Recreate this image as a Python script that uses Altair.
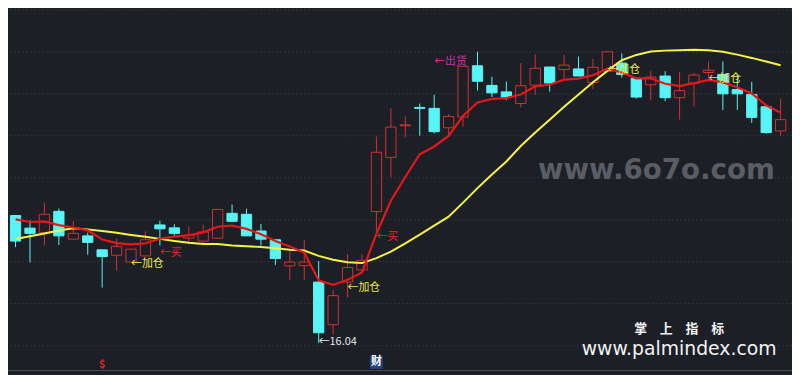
import altair as alt
import pandas as pd

# ---------------- data ----------------
idx = list(range(54))
opens = [19.069, 18.770, 18.662, 19.168, 18.508, 18.586, 18.255, 18.126, 17.965, 18.110,
         18.846, 18.777, 18.535, 18.462, 18.531, 19.122, 19.099, 18.701, 18.494, 17.873,
         17.880, 17.489, 16.477, 17.489, 17.776, 19.161, 20.449, 21.199, 21.636, 21.613,
         21.153, 21.406, 22.625, 22.158, 22.004, 21.728, 22.165, 22.595, 22.533, 22.549,
         22.227, 22.496, 22.687, 22.326, 22.174, 22.381, 21.866, 22.211, 22.464, 22.418,
         22.059, 21.944, 21.652, 21.077]
closes = [18.462, 18.646, 19.099, 18.586, 18.646, 18.432, 18.094, 18.340, 18.271, 18.494,
          18.754, 18.646, 18.604, 18.678, 19.214, 18.931, 18.586, 18.508, 18.048, 17.965,
          17.965, 16.286, 17.167, 17.834, 18.006, 20.571, 21.169, 21.222, 21.613, 21.061,
          21.422, 22.611, 22.257, 21.981, 21.875, 22.151, 22.565, 22.215, 22.641, 22.381,
          22.588, 22.956, 22.418, 21.882, 22.358, 21.866, 22.036, 22.404, 22.519, 21.958,
          21.958, 21.399, 21.038, 21.346]
highs = [19.069, 18.954, 19.375, 19.237, 18.938, 18.662, 18.255, 18.524, 18.271, 18.692,
         18.945, 18.862, 18.807, 18.853, 19.214, 19.329, 19.230, 18.869, 18.494, 18.241,
         18.494, 17.988, 17.298, 18.156, 18.156, 20.946, 21.613, 21.422, 21.728, 21.935,
         21.475, 22.611, 22.956, 22.365, 22.250, 22.687, 22.894, 22.595, 22.878, 22.841,
         22.786, 22.956, 22.917, 22.326, 22.496, 22.496, 22.480, 22.457, 22.726, 22.726,
         22.418, 22.243, 21.652, 21.843]
lows = [18.317, 17.956, 18.356, 18.370, 18.508, 18.140, 17.358, 17.758, 17.965, 18.110,
        18.356, 18.554, 18.386, 18.386, 18.531, 18.931, 18.586, 18.356, 17.896, 17.542,
        17.542, 16.040, 16.247, 17.121, 17.696, 18.701, 19.980, 20.923, 20.962, 21.015,
        20.985, 21.176, 22.036, 21.882, 21.806, 21.636, 21.935, 22.013, 22.319, 22.381,
        22.073, 22.496, 22.342, 21.843, 21.806, 21.783, 21.346, 21.652, 22.266, 21.576,
        21.576, 21.268, 21.015, 20.962]
ma_short = [18.979, 18.915, 18.931, 18.841, 18.786, 18.717, 18.501, 18.414, 18.384, 18.411,
            18.517, 18.572, 18.598, 18.669, 18.802, 18.832, 18.752, 18.627, 18.466, 18.335,
            18.190, 17.528, 17.422, 17.542, 17.719, 18.639, 19.421, 19.984, 20.525, 20.709,
            20.957, 21.433, 21.755, 21.836, 21.857, 21.944, 22.135, 22.174, 22.294, 22.319,
            22.399, 22.556, 22.462, 22.326, 22.326, 22.197, 22.140, 22.211, 22.291, 22.229,
            22.117, 21.969, 21.684, 21.509]
ma_long = [18.510, 18.577, 18.644, 18.715, 18.765, 18.740, 18.701, 18.660, 18.609, 18.563,
           18.515, 18.466, 18.423, 18.395, 18.391, 18.358, 18.340, 18.322, 18.294, 18.259,
           18.239, 18.110, 18.018, 17.960, 17.940, 18.057, 18.213, 18.409, 18.616, 18.830,
           19.041, 19.375, 19.720, 20.042, 20.352, 20.720, 21.042, 21.341, 21.652, 21.944,
           22.232, 22.503, 22.756, 22.882, 22.963, 22.984, 22.995, 23.007, 22.991, 22.958,
           22.889, 22.811, 22.724, 22.636]
grid_levels = [23.952, 22.956, 21.958, 20.962, 19.966, 18.968, 17.972, 16.976, 15.978]
floor_level = [15.389]

ann_idx = [8, 10, 21, 23, 25, 29, 41, 48]
ann_price = [17.926, 18.186, 16.063, 17.339, 18.547, 22.710, 22.519, 22.303]
ann_text = ["←加仓", "←买", "←16.04", "←加仓", "←买", "←出货", "←加仓", "←加仓"]
ann_kind = ["add", "buy", "low", "add", "buy", "sell", "add", "add"]

marker_idx = [6, 25]
marker_price = [15.53, 15.58]
marker_text = ["$", "财"]

# ---------------- styles ----------------
BG = "#1c1f26"
GRID = "#41454f"
RED = "#d8302f"
RED_LINE = "#e8161b"
CYAN = "#57f5f5"
YELLOW = "#f5f53a"
CJK = "Noto Sans CJK SC"
W, H = 792, 367

x_scale = alt.Scale(domain=[-0.523, 53.788], nice=False, zero=False, padding=0)
y_scale = alt.Scale(domain=[15.327, 23.952], nice=False, zero=False, padding=0)


def X(f="idx"):
    return alt.X(f"{f}:Q", scale=x_scale, axis=None)


def Y(f):
    return alt.Y(f"{f}:Q", scale=y_scale, axis=None)


candles = pd.DataFrame(dict(idx=idx, open=opens, high=highs, low=lows, close=closes))
candles["kind"] = ["up" if c >= o else "down" for o, c in zip(opens, closes)]
lines_df = pd.DataFrame(dict(idx=idx, ma_short=ma_short, ma_long=ma_long))
ann_df = pd.DataFrame(dict(idx=ann_idx, price=ann_price, text=ann_text, kind=ann_kind))
marker_df = pd.DataFrame(dict(idx=marker_idx, price=marker_price, text=marker_text))

grid = alt.Chart(pd.DataFrame({"level": grid_levels})).mark_rule(
    color=GRID, strokeDash=[1, 3], strokeWidth=1).encode(y=Y("level"))
floor = alt.Chart(pd.DataFrame({"level": floor_level})).mark_rule(
    color="#4a4e57", strokeWidth=1).encode(y=Y("level"))

wm1 = alt.Chart(pd.DataFrame({"t": ["www.6o7o.com"]})).mark_text(
    font="DejaVu Sans", fontWeight="bold", fontSize=28, color="#5a5d64",
    align="center", baseline="alphabetic").encode(
    x=alt.value(655), y=alt.value(171), text="t:N")

kind_dom = ["up", "down"]
wicks = alt.Chart(candles).mark_rule(strokeWidth=1).encode(
    x=X(), y=Y("low"), y2=alt.Y2("high"),
    stroke=alt.Stroke("kind:N", scale=alt.Scale(domain=kind_dom, range=[RED, CYAN]), legend=None))
bodies = alt.Chart(candles).mark_bar(size=10.4, strokeWidth=1).encode(
    x=X(), y=Y("open"), y2=alt.Y2("close"),
    fill=alt.Fill("kind:N", scale=alt.Scale(domain=kind_dom, range=[BG, CYAN]), legend=None),
    stroke=alt.Stroke("kind:N", scale=alt.Scale(domain=kind_dom, range=[RED, CYAN]), legend=None))

long_line = alt.Chart(lines_df).mark_line(color=YELLOW, strokeWidth=2).encode(x=X(), y=Y("ma_long"))
short_line = alt.Chart(lines_df).mark_line(color=RED_LINE, strokeWidth=2.2).encode(x=X(), y=Y("ma_short"))

ann = alt.Chart(ann_df).mark_text(align="left", baseline="middle", font=CJK, fontSize=11).encode(
    x=X(), y=Y("price"), text="text:N",
    color=alt.Color("kind:N", scale=alt.Scale(domain=["add", "buy", "sell", "low"],
                                              range=["#ecec3e", "#e0262a", "#cc2f9c", "#e6e6e6"]),
                    legend=None))

box = alt.Chart(marker_df).transform_filter(alt.datum.text == "财").mark_square(
    size=165, color="#21477f", filled=True, opacity=1).encode(x=X(), y=Y("price"))
markers = alt.Chart(marker_df).mark_text(
    align="center", baseline="middle", font=CJK, fontSize=11, fontWeight="bold").encode(
    x=X(), y=Y("price"), text="text:N",
    color=alt.Color("text:N", scale=alt.Scale(domain=["$", "财"], range=["#e0262a", "#ffffff"]),
                    legend=None))

wm2 = alt.Chart(pd.DataFrame({"t": ["掌　上　指　标"]})).mark_text(
    font=CJK, fontWeight="bold", fontSize=13, color="#f2f2f2",
    align="center", baseline="middle").encode(x=alt.value(678), y=alt.value(322), text="t:N")
wm3 = alt.Chart(pd.DataFrame({"t": ["www.palmindex.com"]})).mark_text(
    font="DejaVu Sans", fontSize=19, color="#f2f2f2",
    align="center", baseline="alphabetic").encode(x=alt.value(678), y=alt.value(349), text="t:N")

chart = alt.layer(
    grid, floor, wm1, wicks, bodies, long_line, short_line, ann, box, markers, wm2, wm3
).resolve_scale(
    color="independent", fill="independent", stroke="independent"
).properties(
    width=W, height=H, background=BG, padding=0,
    autosize=alt.AutoSizeParams(type="none")
).configure_view(strokeWidth=0)

chart.save("out.html", embed_options={"renderer": "svg", "actions": False})
